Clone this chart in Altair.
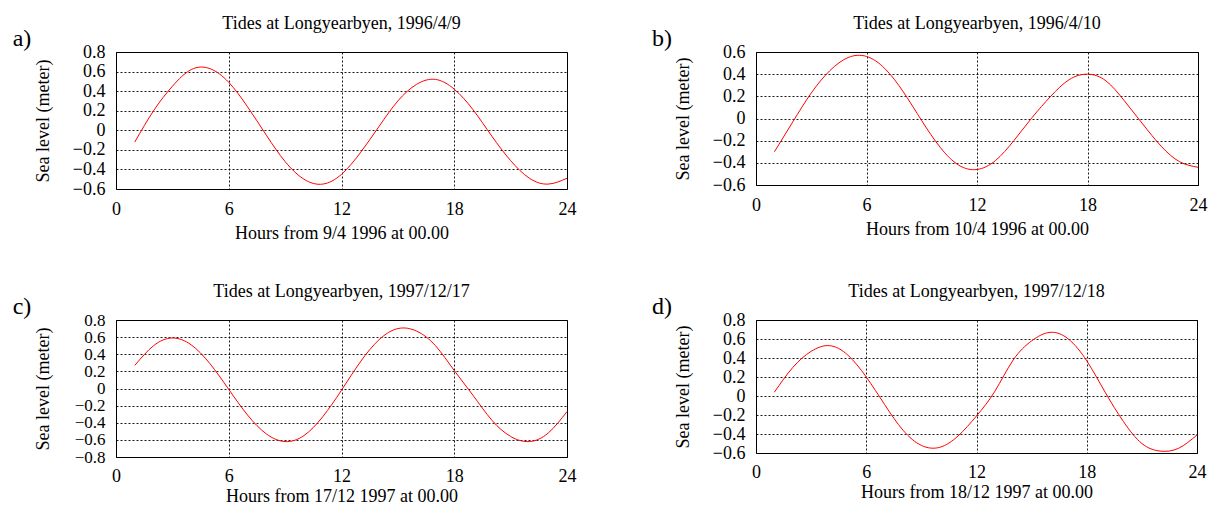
import altair as alt
import pandas as pd

FONT = "'Liberation Serif', 'Times New Roman', Times, serif"

hours = list(range(1, 25))

level_a = [-0.12, 0.20, 0.45, 0.62, 0.63, 0.49, 0.24, -0.05, -0.32, -0.50, -0.55, -0.45,
           -0.23, 0.04, 0.30, 0.47, 0.52, 0.42, 0.21, -0.06, -0.31, -0.49, -0.55, -0.49]
level_b = [-0.30, -0.03, 0.23, 0.43, 0.55, 0.56, 0.45, 0.24, -0.02, -0.26, -0.42, -0.46,
           -0.38, -0.20, 0.01, 0.20, 0.35, 0.40, 0.34, 0.16, -0.05, -0.25, -0.39, -0.44]
level_c = [0.27, 0.50, 0.59, 0.51, 0.29, -0.01, -0.31, -0.53, -0.62, -0.55, -0.33, -0.02,
           0.31, 0.57, 0.70, 0.67, 0.50, 0.21, -0.08, -0.37, -0.56, -0.62, -0.52, -0.27]
level_d = [0.04, 0.30, 0.47, 0.53, 0.43, 0.20, -0.09, -0.36, -0.52, -0.54, -0.42, -0.21,
           0.05, 0.38, 0.58, 0.67, 0.60, 0.37, 0.04, -0.27, -0.50, -0.58, -0.55, -0.41]

letters = ["a)", "b)", "c)", "d)"]
titles = ["Tides at Longyearbyen, 1996/4/9", "Tides at Longyearbyen, 1996/4/10",
          "Tides at Longyearbyen, 1997/12/17", "Tides at Longyearbyen, 1997/12/18"]
x_titles = ["Hours from 9/4 1996 at 00.00", "Hours from 10/4 1996 at 00.00",
            "Hours from 17/12 1997 at 00.00", "Hours from 18/12 1997 at 00.00"]
x_ticks = [0, 6, 12, 18, 24]
y_ticks_a = [-0.6, -0.4, -0.2, 0, 0.2, 0.4, 0.6, 0.8]
y_ticks_b = [-0.6, -0.4, -0.2, 0, 0.2, 0.4, 0.6]
y_ticks_c = [-0.8, -0.6, -0.4, -0.2, 0, 0.2, 0.4, 0.6, 0.8]
y_ticks_d = [-0.6, -0.4, -0.2, 0, 0.2, 0.4, 0.6, 0.8]
y_title = "Sea level (meter)"

LABEL_EXPR = "abs(datum.value) < 1e-9 ? '0' : format(datum.value, '.1f')"


def panel(letter, title, xtitle, values, yticks, w, h, xtitle_y, xlabel_pad=11, ylabel_size=18):
    df = pd.DataFrame({"hour": hours, "level": values})
    common = dict(
        grid=True, gridColor="#000", gridDash=[2, 2], gridOpacity=0.9, gridWidth=1,
        ticks=False, tickSize=0, domain=False,
        labelFont=FONT, labelColor="#000", labelOverlap=False, labelFlush=False,
        titleFont=FONT, titleFontSize=18, titleFontWeight="normal", titleColor="#000",
        titleBaseline="middle", titleAlign="center",
    )
    x = alt.X("hour:Q", scale=alt.Scale(domain=[0, 24], nice=False, zero=False),
              axis=alt.Axis(values=x_ticks, title=xtitle, titleX=w / 2, titleY=xtitle_y,
                            labelFontSize=18, labelPadding=xlabel_pad, **common))
    y = alt.Y("level:Q", scale=alt.Scale(domain=[min(yticks), max(yticks)], nice=False, zero=False),
              axis=alt.Axis(values=yticks, title=y_title, labelExpr=LABEL_EXPR,
                            labelFontSize=ylabel_size, labelPadding=11,
                            titleX=-73, titleY=h / 2, titleAngle=270, **common))
    line = alt.Chart(df).mark_line(color="#ff0000", strokeWidth=1, interpolate="natural").encode(x=x, y=y)
    lab = alt.Chart(pd.DataFrame({"label": [letter]})).mark_text(
        font=FONT, fontSize=24, align="center", baseline="middle", color="#000"
    ).encode(x=alt.value(-94), y=alt.value(-13), text="label:N")
    ttl = alt.Chart(pd.DataFrame({"label": [title]})).mark_text(
        font=FONT, fontSize=18, align="center", baseline="middle", color="#000"
    ).encode(x=alt.value(w / 2), y=alt.value(-28), text="label:N")
    return alt.layer(line, lab, ttl).properties(width=w, height=h)


pa = panel(letters[0], titles[0], x_titles[0], level_a, y_ticks_a, 451, 137, 44)
pb = panel(letters[1], titles[1], x_titles[1], level_b, y_ticks_b, 442, 133, 44)
pc = panel(letters[2], titles[2], x_titles[2], level_c, y_ticks_c, 451, 137, 39,
           xlabel_pad=10, ylabel_size=17)
pd_ = panel(letters[3], titles[3], x_titles[3], level_d, y_ticks_d, 441, 133, 39, xlabel_pad=10)

chart = alt.concat(
    pa, pb, pc, pd_, columns=2, spacing={"row": 131, "column": 189}, bounds="flush"
).properties(
    autosize=alt.AutoSizeParams(type="none"),
    padding={"left": 108, "top": 44, "right": 1092, "bottom": 456},
).configure(background="white").configure_view(stroke="#000", strokeWidth=1)

chart.save("out.html", embed_options={"renderer": "svg", "actions": False})
